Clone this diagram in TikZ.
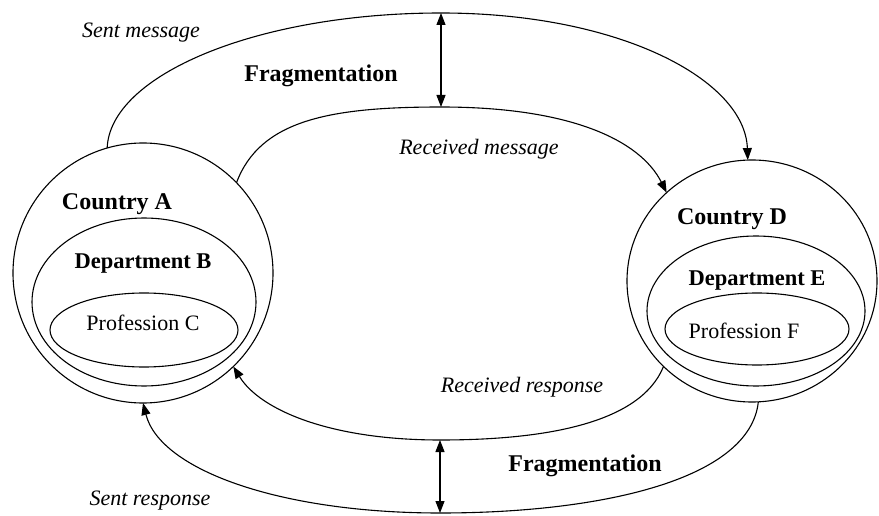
\documentclass[tikz,border=0pt]{standalone}
\usepackage{fontspec}
\setmainfont{Liberation Serif}
\usetikzlibrary{arrows.meta,shapes.geometric}

\begin{document}
\begin{tikzpicture}[x=1pt,y=-1pt,line width=1.1pt,
    tip/.style={-{Triangle[length=12pt,width=9pt]}},
    both/.style={{Triangle[length=12pt,width=9pt]}-{Triangle[length=12pt,width=9pt]}},
    ring/.style={draw,ellipse,inner sep=0pt,outer sep=0pt},
    head/.style={font=\fontsize{24}{28}\selectfont\bfseries,anchor=base},
    sub/.style={font=\fontsize{22.5}{26}\selectfont\bfseries,anchor=base},
    plain/.style={font=\fontsize{22}{26}\selectfont,anchor=base},
    flow/.style={font=\fontsize{22}{26}\selectfont\itshape,anchor=base}]
  \useasboundingbox (0,0) rectangle (879,516);

  % country A
  \node[ring,minimum width=260pt,minimum height=260pt] (ctyA) at (143,273) {};
  \node[ring,minimum width=224pt,minimum height=168pt] (depB) at (144,302) {};
  \node[ring,minimum width=188pt,minimum height=74pt] (profC) at (144,330) {};
  \node[head] (lblA) at (117,210) {Country A};
  \node[sub] (lblB) at (143,269) {Department B};
  \node[plain] (lblC) at (143,330) {Profession C};

  % country D
  \node[ring,minimum width=250pt,minimum height=242pt] (ctyD) at (752,281) {};
  \node[ring,minimum width=218pt,minimum height=150pt] (depE) at (756,311) {};
  \node[ring,minimum width=184pt,minimum height=72pt] (profF) at (757,329) {};
  \node[head] (lblD) at (732,225) {Country D};
  \node[sub] (lblE) at (757,285) {Department E};
  \node[plain] (lblF) at (744,338) {Profession F};

  % meeting points of the arcs
  \coordinate (topOut) at (441,13);
  \coordinate (topIn) at (441,107);
  \coordinate (botIn) at (440,440);
  \coordinate (botOut) at (440,513);

  % message
  \draw[tip] (ctyA.106) .. controls (110,75) and (257,13) .. (topOut)
    .. controls (620,13) and (745,80) .. (ctyD.92);
  \draw[tip] (ctyA.44) .. controls (260,120) and (330,107) .. (topIn)
    .. controls (570,107) and (640,140) .. (ctyD.134);
  \draw[both] (topOut) -- (topIn);

  % response
  \draw[tip] (ctyD.224) .. controls (640,425) and (540,440) .. (botIn)
    .. controls (330,440) and (260,410) .. (ctyA.314);
  \draw[tip] (ctyD.273) .. controls (750,480) and (600,513) .. (botOut)
    .. controls (280,513) and (160,470) .. (ctyA.270);
  \draw[both] (botIn) -- (botOut);

  \node[flow] (sentMsg) at (141,38) {Sent message};
  \node[head] (fragTop) at (321,82) {Fragmentation};
  \node[flow] (recvMsg) at (479,155) {Received message};
  \node[flow] (recvRsp) at (522,392) {Received response};
  \node[head] (fragBot) at (585,471) {Fragmentation};
  \node[flow] (sentRsp) at (150,505) {Sent response};
\end{tikzpicture}
\end{document}
